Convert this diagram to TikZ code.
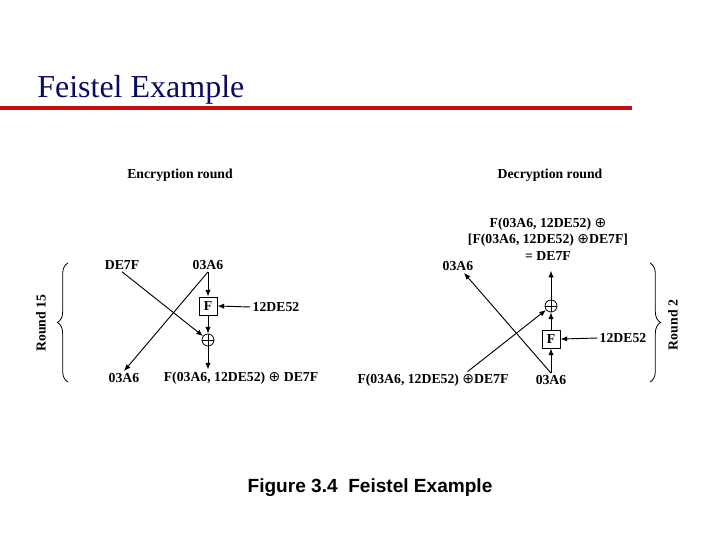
\documentclass[tikz,border=0pt]{standalone}
\usepackage{fontspec}
\setmainfont{Liberation Serif}
\newfontfamily\capfont{Liberation Sans}
\newfontfamily\symfont{DejaVu Sans}
\usetikzlibrary{arrows,arrows.meta,positioning,decorations.pathreplacing}
\definecolor{titleblue}{RGB}{10,10,100}
\definecolor{rulered}{RGB}{190,15,15}
\newcommand{\lblfont}{\fontsize{10.3}{12}\selectfont\bfseries}
\newcommand{\xorsym}{{\symfont\mdseries\fontsize{10.5}{12}\selectfont ⊕}}

\tikzset{
	lbl/.style={font=\lblfont, inner sep=1.5pt},
	fbox/.style={draw, line width=0.7pt, minimum size=13.5pt, inner sep=0pt, font=\lblfont},
	xor/.style={draw, circle, line width=0.6pt, minimum size=9pt, inner sep=0pt,
		path picture={\draw[line width=0.6pt] (path picture bounding box.north) -- (path picture bounding box.south)
			(path picture bounding box.west) -- (path picture bounding box.east);}},
	flow/.style={-{Latex[length=5pt, width=4pt]}, line width=0.7pt},
	roundbrace/.style={decorate, decoration={brace, amplitude=8pt}, line width=0.6pt}
}

\begin{document}
\begin{tikzpicture}[x=0.75pt, y=-0.75pt]
	\useasboundingbox (0,0) rectangle (720,540);
	
	% title and rule
	\node[anchor=base west, inner sep=0pt, text=titleblue, font=\fontsize{24}{28}\selectfont] (title) at (37,97) {Feistel Example};
	\draw[rulered, line width=3pt] (0,108) -- (632,108);
	
	% encryption round
	\node[lbl] (encHead) at (180,175) {Encryption round};
	\node[lbl] (dL) at (122,265) {DE7F};
	\node[lbl] (aL) at (208,265) {03A6};
	\node[fbox] (FL) at (208,306) {F};
	\node[lbl] (kL) at (276,307) {12DE52};
	\node[xor] (xL) at (208,340) {};
	\node[lbl] (oaL) at (124,378) {03A6};
	\node[lbl] (oxL) at (241,378) {F(03A6, 12DE52) \xorsym{} DE7F};
	
	\draw[flow] (aL.south) -- (FL.north);
	\draw[flow] (FL.south) -- (xL.north);
	\draw[flow] (kL.west) -- (FL.east);
	\draw[flow] (dL.south) -- (xL);
	\draw[flow] (aL.south) -- (oaL.north);
	\draw[flow] (xL.south) -- (xL.south |- oxL.north);
	
	\draw[roundbrace] (68,382) -- (68,263);
	\node[lbl, rotate=90] (rL) at (41,323) {Round 15};
	
	% decryption round
	\node[lbl] (decHead) at (550,175) {Decryption round};
	\node[lbl, align=center] (topR) at (548,239) {F(03A6, 12DE52) \xorsym\\[0.5pt] {[}F(03A6, 12DE52) \xorsym{}DE7F{]}\\[0.5pt] = DE7F};
	\node[lbl] (aR) at (458,266) {03A6};
	\node[xor] (xR) at (551,306) {};
	\node[fbox] (FR) at (551,339) {F};
	\node[lbl] (kR) at (623,338) {12DE52};
	\node[lbl] (bR) at (551,380) {03A6};
	\node[lbl] (yR) at (433,380) {F(03A6, 12DE52) \xorsym{}DE7F};
	
	\draw[flow] (bR.north) -- (FR.south);
	\draw[flow] (FR.north) -- (xR.south);
	\draw[flow] (kR.west) -- (FR.east);
	\draw[flow, shorten >=6pt] (xR.north) -- (xR.north |- topR.south);
	\draw[flow] (bR.north) -- (aR);
	\draw[flow] ([xshift=26pt]yR.north) -- (xR);
	
	\draw[roundbrace] (650,263) -- (650,382);
	\node[lbl, rotate=90] (rR) at (673,325) {Round 2};
	
	% caption
	\node[font=\capfont\bfseries\fontsize{14.3}{17}\selectfont, inner sep=0pt] (cap) at (370,488) {Figure 3.4\ \ Feistel Example};
\end{tikzpicture}
\end{document}
